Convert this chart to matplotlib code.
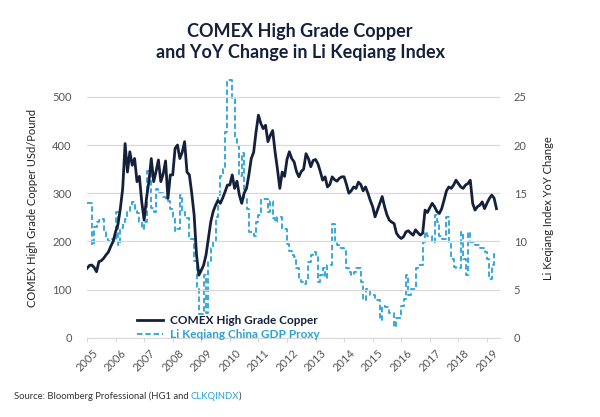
import matplotlib
matplotlib.use("Agg")
import matplotlib.pyplot as plt
import numpy as np

# monthly values, Jan 2005 .. May 2019
years = list(range(2005, 2020))

copper = [
    144, 150, 151, 146, 137, 158, 160, 165, 172, 178, 190, 200,   # 2005
    220, 235, 268, 310, 403, 344, 386, 358, 372, 324, 335, 282,   # 2006
    244, 290, 324, 372, 324, 345, 369, 324, 340, 367, 289, 338,   # 2007
    338, 393, 400, 372, 385, 407, 344, 338, 300, 255, 172, 130,   # 2008
    140, 151, 172, 206, 241, 262, 275, 285, 279, 290, 303, 317,   # 2009
    317, 338, 310, 325, 296, 279, 300, 310, 338, 372, 385, 427,   # 2010
    462, 445, 434, 441, 407, 420, 430, 386, 350, 310, 344, 335,   # 2011
    370, 386, 372, 365, 345, 334, 345, 350, 382, 372, 355, 368,   # 2012
    370, 361, 345, 327, 334, 313, 318, 334, 328, 325, 331, 334,   # 2013
    334, 318, 300, 305, 313, 310, 323, 318, 305, 313, 300, 285,   # 2014
    272, 251, 265, 279, 293, 272, 255, 244, 240, 237, 217, 210,   # 2015
    206, 210, 220, 222, 217, 213, 224, 218, 213, 217, 265, 260,   # 2016
    270, 279, 272, 262, 258, 268, 286, 305, 313, 310, 317, 327,   # 2017
    320, 313, 310, 317, 320, 327, 279, 265, 272, 275, 282, 268,   # 2018
    279, 289, 296, 290, 268,                                      # 2019
]

li_keqiang = [
    14.0, 14.0, 9.6, 11.5, 12.0, 12.2, 12.3, 11.0, 10.3, 10.0, 10.3, 10.0,   # 2005
    13.0, 9.6, 11.4, 12.0, 12.3, 13.2, 13.6, 14.1, 13.4, 12.9, 12.0, 11.3,   # 2006
    12.0, 17.3, 17.3, 13.5, 13.0, 15.4, 15.0, 15.0, 14.6, 14.2, 14.2, 13.4,  # 2007
    12.5, 11.1, 11.3, 14.8, 13.0, 12.4, 12.4, 10.3, 10.3, 8.0, 5.3, 2.5,     # 2008
    2.5, 6.5, 2.6, 7.9, 9.3, 10.0, 12.5, 14.8, 16.8, 17.5, 21.3, 26.7,       # 2009
    26.7, 24.8, 20.6, 19.9, 16.8, 19.2, 14.4, 13.4, 11.0, 11.0, 10.6, 12.0,  # 2010
    12.7, 14.4, 14.4, 14.4, 13.1, 14.2, 12.4, 12.0, 12.5, 12.5, 11.3, 11.3,  # 2011
    9.7, 9.0, 8.6, 8.4, 7.2, 6.2, 5.8, 5.6, 5.9, 7.9, 8.6, 8.9,              # 2012
    8.6, 5.8, 6.5, 7.2, 6.2, 7.5, 7.5, 11.8, 9.9, 9.6, 9.3, 9.3,             # 2013
    9.0, 7.2, 6.8, 6.5, 6.8, 7.2, 7.2, 5.8, 3.9, 5.1, 5.1, 4.4,              # 2014
    4.4, 3.9, 3.9, 1.8, 3.3, 3.2, 3.2, 2.6, 2.6, 1.1, 2.0, 2.0,              # 2015
    3.3, 4.0, 6.5, 4.4, 5.1, 5.1, 7.2, 7.5, 7.5, 9.9, 11.0, 10.6,            # 2016
    10.6, 9.9, 12.7, 12.0, 10.6, 10.3, 10.3, 12.5, 9.9, 8.2, 7.3, 7.2,       # 2017
    7.2, 11.0, 8.2, 6.5, 11.0, 9.9, 9.9, 9.6, 9.6, 9.3, 9.3, 8.9,            # 2018
    8.2, 6.1, 7.5, 8.7, 8.7,                                                 # 2019
]

months = 2005 + np.arange(len(copper)) / 12.0

navy = "#15203b"
blue = "#2ba3d6"
grey = "#555555"

plt.rcParams["font.family"] = ["Lato", "DejaVu Sans"]

fig = plt.figure(figsize=(6, 4.17), dpi=100)
ax = fig.add_axes([0.145, 0.19, 0.688, 0.624])
ax2 = ax.twinx()

ax.plot(months, copper, color=navy, lw=2.0, zorder=3)
ax2.plot(months, li_keqiang, color=blue, lw=1.3, ls=(0, (3, 1.6)),
         drawstyle="steps-post", zorder=2)

ax.set_xlim(2005, 2019.45)
ax.set_ylim(0, 540)
ax2.set_ylim(0, 27)
ax.set_yticks([0, 100, 200, 300, 400, 500])
ax2.set_yticks([0, 5, 10, 15, 20, 25])
ax.set_xticks(years)
ax.set_xticklabels([str(y) for y in years], rotation=45, ha="center")

ax.grid(axis="y", color="#d9d9d9", lw=0.9)
ax.set_axisbelow(True)
ax.set_zorder(ax2.get_zorder() + 1)
ax.patch.set_visible(False)

for a in (ax, ax2):
    for s in a.spines.values():
        s.set_visible(False)
ax.spines["bottom"].set_visible(True)
ax.spines["bottom"].set_color("#d9d9d9")

ax.tick_params(axis="x", colors="#d9d9d9", labelcolor=grey, labelsize=8, length=3, pad=4)
ax.tick_params(axis="y", length=0, labelcolor=grey, labelsize=8, pad=11)
ax2.tick_params(axis="y", length=0, labelcolor=grey, labelsize=8, pad=10)

ax.set_ylabel("COMEX High Grade Copper USd/Pound", fontsize=8, color="#222222", labelpad=10)
ax2.set_ylabel("Li Keqiang Index YoY Change", fontsize=8, color="#222222", labelpad=12)

leg = ax.legend(
    [plt.Line2D([], [], color=navy, lw=2.0),
     plt.Line2D([], [], color=blue, lw=1.3, ls=(0, (3, 1.6)))],
    ["COMEX High Grade Copper", "Li Keqiang China GDP Proxy"],
    loc="lower left", bbox_to_anchor=(0.095, -0.05), frameon=False,
    handlelength=2.2, handletextpad=0.6, labelspacing=0.25,
    prop={"weight": "bold", "size": 8.5})
for t, c in zip(leg.get_texts(), [navy, blue]):
    t.set_color(c)

fig.text(0.5, 0.945, "COMEX High Grade Copper\nand YoY Change in Li Keqiang Index",
         ha="center", va="top", fontsize=13, fontweight="bold", color=navy,
         linespacing=1.3)

src = fig.text(0.023, 0.05, "Source: Bloomberg Professional (HG1 and ", fontsize=6.8,
               color="#333333", va="center")
fig.canvas.draw()
bb = src.get_window_extent().transformed(fig.transFigure.inverted())
t2 = fig.text(bb.x1, 0.05, "CLKQINDX", fontsize=6.8, color=blue, va="center")
fig.canvas.draw()
bb2 = t2.get_window_extent().transformed(fig.transFigure.inverted())
fig.text(bb2.x1, 0.05, ")", fontsize=6.8, color="#333333", va="center")

fig.savefig("out.png", dpi=100)
